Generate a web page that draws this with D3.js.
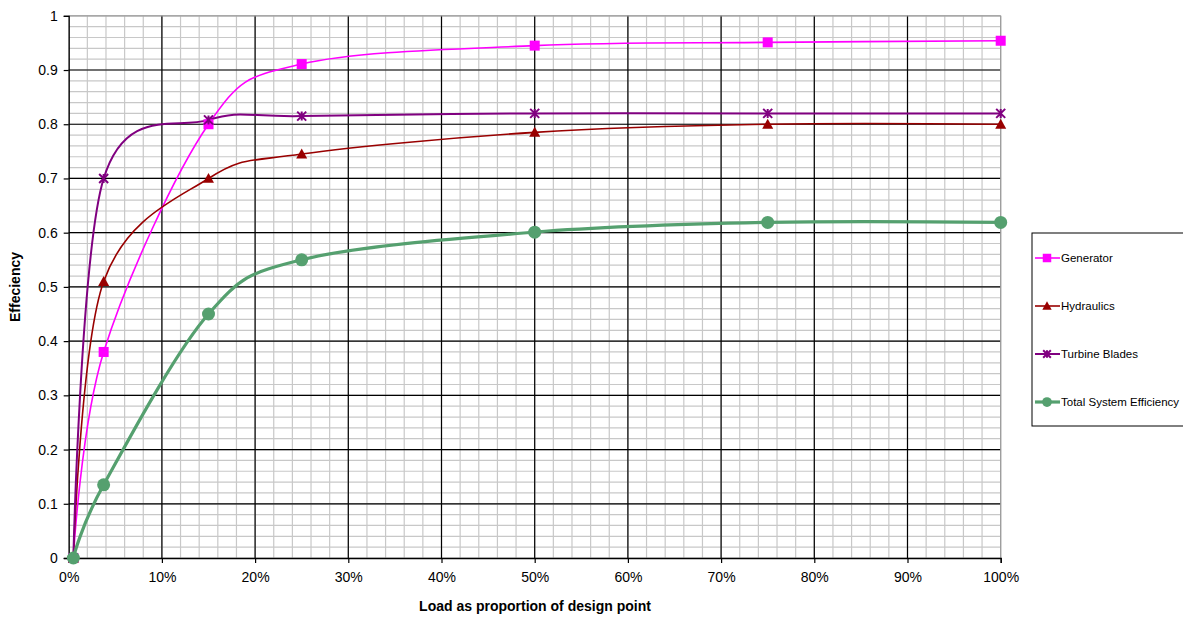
<!DOCTYPE html>
<html>
<head>
<meta charset="utf-8">
<script src="https://cdn.jsdelivr.net/npm/d3@7"></script>
<style>
  html, body { margin: 0; padding: 0; background: #fff; }
  svg { display: block; font-family: "Liberation Sans", Arial, sans-serif; }
</style>
</head>
<body>
<svg id="chart" width="1183" height="619"></svg>
<script>
// Load points (fraction of design point)
const loads = [0.005, 0.0375, 0.15, 0.25, 0.5, 0.75, 1.0];

// Component efficiencies at each load
const generator = [0, 0.38, 0.80, 0.911, 0.945, 0.951, 0.954];
const hydraulics = [0, 0.51, 0.70, 0.745, 0.785, 0.80, 0.80];
const turbineBlades = [0, 0.70, 0.808, 0.815, 0.82, 0.82, 0.82];
const totalSystem = [0, 0.135, 0.45, 0.55, 0.601, 0.619, 0.619];

const seriesNames = ["Generator", "Hydraulics", "Turbine Blades", "Total System Efficiency"];
const xTicks = [0, 0.1, 0.2, 0.3, 0.4, 0.5, 0.6, 0.7, 0.8, 0.9, 1.0];
const yTicks = [0, 0.1, 0.2, 0.3, 0.4, 0.5, 0.6, 0.7, 0.8, 0.9, 1];

const series = [
  { name: seriesNames[0], values: generator, color: "#ff00ff", width: 1.6, marker: "square" },
  { name: seriesNames[1], values: hydraulics, color: "#990000", width: 1.6, marker: "triangle" },
  { name: seriesNames[2], values: turbineBlades, color: "#800080", width: 2, marker: "star" },
  { name: seriesNames[3], values: totalSystem, color: "#55a06f", width: 3.2, marker: "circle" }
];

const svg = d3.select("#chart");
const plotLeft = 68.7, plotRight = 1000.7, plotTop = 15.8, plotBottom = 558;

const x = d3.scaleLinear().domain([0, 1]).range([plotLeft, plotRight]);
const y = d3.scaleLinear().domain([0, 1]).range([plotBottom, plotTop]);

// Minor grid every 2% / 0.02
const minor = d3.range(0, 51).map(i => i * 0.02);
const grid = svg.append("g");
grid.selectAll("line.mx").data(minor).join("line")
  .attr("x1", d => x(d)).attr("x2", d => x(d))
  .attr("y1", plotTop).attr("y2", plotBottom)
  .attr("stroke", "#c8c8c8").attr("stroke-width", 1.2);
grid.selectAll("line.my").data(minor).join("line")
  .attr("x1", plotLeft).attr("x2", plotRight)
  .attr("y1", d => y(d)).attr("y2", d => y(d))
  .attr("stroke", "#c8c8c8").attr("stroke-width", 1.2);

// Major grid
grid.selectAll("line.Mx").data(xTicks.slice(1, -1)).join("line")
  .attr("x1", d => x(d)).attr("x2", d => x(d))
  .attr("y1", plotTop).attr("y2", plotBottom)
  .attr("stroke", "#000").attr("stroke-width", 1.2);
grid.selectAll("line.My").data(yTicks.slice(1, -1)).join("line")
  .attr("x1", plotLeft).attr("x2", plotRight)
  .attr("y1", d => y(d)).attr("y2", d => y(d))
  .attr("stroke", "#000").attr("stroke-width", 1.2);

// Plot frame: gray top/right, black axes
svg.append("line").attr("x1", plotLeft).attr("x2", plotRight).attr("y1", plotTop).attr("y2", plotTop)
  .attr("stroke", "#999").attr("stroke-width", 1.2);
svg.append("line").attr("x1", plotRight).attr("x2", plotRight).attr("y1", plotTop).attr("y2", plotBottom)
  .attr("stroke", "#999").attr("stroke-width", 1.2);

// Axes
const xAxis = d3.axisBottom(x).tickValues(xTicks).tickFormat(d3.format(".0%")).tickSize(5).tickPadding(9);
const yAxis = d3.axisLeft(y).tickValues(yTicks).tickFormat(d => d === 0 || d === 1 ? String(d) : d3.format(".1f")(d)).tickSize(5).tickPadding(6);

const gx = svg.append("g").attr("transform", `translate(0,${plotBottom})`).call(xAxis);
const gy = svg.append("g").attr("transform", `translate(${plotLeft},0)`).call(yAxis);
[gx, gy].forEach(g => {
  g.select(".domain").attr("stroke", "#000").attr("stroke-width", 1.3);
  g.selectAll(".tick line").attr("stroke", "#000").attr("stroke-width", 1.2);
  g.selectAll(".tick text").attr("fill", "#000").style("font-size", "14px")
    .style("font-family", "'Liberation Sans', Arial, sans-serif");
});

// Axis titles
svg.append("text").attr("x", 535).attr("y", 611).attr("text-anchor", "middle")
  .style("font-size", "14px").style("font-weight", "bold").text("Load as proportion of design point");
svg.append("text").attr("transform", "translate(20,287) rotate(-90)").attr("text-anchor", "middle")
  .style("font-size", "14px").style("font-weight", "bold").text("Effeciency");

// Smoothed lines
const line = d3.line()
  .x((d, i) => x(loads[i]))
  .y(d => y(d))
  .curve(d3.curveCardinal.tension(0));

function drawMarker(g, type, cx, cy, color, scale = 1) {
  if (type === "square") {
    const s = 10 * scale;
    g.append("rect").attr("x", cx - s / 2).attr("y", cy - s / 2).attr("width", s).attr("height", s).attr("fill", color);
  } else if (type === "triangle") {
    const s = 5.5 * scale;
    g.append("path").attr("d", `M${cx},${cy - s} L${cx + s},${cy + s * 0.8} L${cx - s},${cy + s * 0.8} Z`).attr("fill", color);
  } else if (type === "star") {
    const s = 4.5 * scale;
    g.append("path")
      .attr("d", `M${cx - s},${cy - s} L${cx + s},${cy + s} M${cx - s},${cy + s} L${cx + s},${cy - s} M${cx},${cy - s} L${cx},${cy + s}`)
      .attr("stroke", color).attr("stroke-width", 2).attr("fill", "none");
  } else if (type === "circle") {
    g.append("circle").attr("cx", cx).attr("cy", cy).attr("r", 6.5 * scale).attr("fill", color);
  }
}

const plot = svg.append("g");
series.forEach(s => {
  plot.append("path").datum(s.values).attr("d", line)
    .attr("fill", "none").attr("stroke", s.color).attr("stroke-width", s.width)
    .attr("stroke-linejoin", "round");
});
series.forEach(s => {
  const g = plot.append("g");
  s.values.forEach((v, i) => drawMarker(g, s.marker, x(loads[i]), y(v), s.color));
});

// Legend
const legend = svg.append("g");
legend.append("rect").attr("x", 1032).attr("y", 233).attr("width", 170).attr("height", 193)
  .attr("fill", "#fff").attr("stroke", "#000").attr("stroke-width", 1);
series.forEach((s, i) => {
  const ly = 258 + i * 48;
  legend.append("line").attr("x1", 1035).attr("x2", 1060).attr("y1", ly).attr("y2", ly)
    .attr("stroke", s.color).attr("stroke-width", s.width);
  drawMarker(legend, s.marker, 1047, ly, s.color, s.marker === "circle" ? 0.75 : 0.85);
  legend.append("text").attr("x", 1061).attr("y", ly + 4).style("font-size", "11.5px")
    .attr("fill", "#000").text(s.name);
});
</script>
</body>
</html>
